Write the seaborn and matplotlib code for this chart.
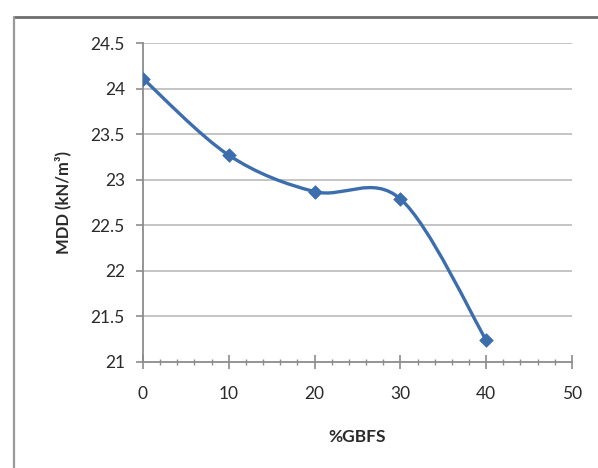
import numpy as np
import pandas as pd
import matplotlib
matplotlib.use("Agg")
import matplotlib.pyplot as plt
from matplotlib.path import Path
from matplotlib.patches import PathPatch
import seaborn as sns

# ---- data ----
gbfs = [0, 10, 20, 30, 40]
mdd = [24.11, 23.27, 22.87, 22.79, 21.24]
x_ticks = [0, 10, 20, 30, 40, 50]
y_ticks = [21, 21.5, 22, 22.5, 23, 23.5, 24, 24.5]
y_ticklabels = ["21", "21.5", "22", "22.5", "23", "23.5", "24", "24.5"]
x_label = "%GBFS"
y_label = "MDD (kN/m³)"

sns.set_style("white")
plt.rcParams["font.family"] = ["Lato", "DejaVu Sans"]

LINE = "#3C6EAD"
GRID = "#C4C4C4"
AXC = "#8C8C8C"
TXT = "#2A2A2A"

fig = plt.figure(figsize=(5.98, 4.68), dpi=100)
ax = fig.add_axes([0.239, 0.2265, 0.9565 - 0.239, 0.908 - 0.2265])

df = pd.DataFrame({"x": gbfs, "y": mdd})

# smooth (Excel-style Catmull-Rom Bezier) curve built from the data points
pts = np.column_stack([gbfs, mdd]).astype(float)
n = len(pts)
verts = [tuple(pts[0])]
codes = [Path.MOVETO]
for i in range(n - 1):
    p0 = pts[max(i - 1, 0)]
    p1 = pts[i]
    p2 = pts[i + 1]
    p3 = pts[min(i + 2, n - 1)]
    c1 = p1 + (p2 - p0) / 6.0
    c2 = p2 - (p3 - p1) / 6.0
    verts += [tuple(c1), tuple(c2), tuple(p2)]
    codes += [Path.CURVE4] * 3
patch = PathPatch(Path(verts, codes), facecolor="none", edgecolor=LINE,
                  lw=2.4, zorder=3, capstyle="round", joinstyle="round")
ax.add_patch(patch)

sns.scatterplot(data=df, x="x", y="y", marker="D", s=48, color=LINE,
                edgecolor=LINE, linewidth=0.5, ax=ax, zorder=4, legend=False)

ax.set_xlim(0, 50)
ax.set_ylim(21, 24.5)
ax.set_xticks(x_ticks)
ax.set_xticks(np.arange(0, 51, 2), minor=True)
ax.set_yticks(y_ticks)
ax.set_yticklabels(y_ticklabels)
ax.set_xticklabels([str(v) for v in x_ticks])

for y in y_ticks[1:]:
    ax.axhline(y, color=GRID, lw=1.4, zorder=1)

for s in ["top", "right"]:
    ax.spines[s].set_visible(False)
for s in ["left", "bottom"]:
    ax.spines[s].set_color(AXC)
    ax.spines[s].set_linewidth(1.3)

ax.tick_params(axis="y", which="major", direction="out", length=5, width=1.2,
               color=AXC, labelsize=12.5, labelcolor=TXT, pad=8, left=True)
ax.tick_params(axis="x", which="major", direction="inout", length=10, width=1.2,
               color=AXC, labelsize=12.5, labelcolor=TXT, pad=12, bottom=True)
ax.tick_params(axis="x", which="minor", direction="inout", length=5, width=1.0,
               color=AXC, bottom=True)

ax.set_xlabel(x_label, fontsize=12.5, fontweight="bold", color=TXT, labelpad=20)
ax.set_ylabel(y_label, fontsize=12, fontweight="bold", color=TXT, labelpad=14)

# outer chart frame (top and left edges visible)
fig.add_artist(plt.Line2D([14 / 598, 1.0], [1 - 17 / 468, 1 - 17 / 468],
                          transform=fig.transFigure, color="#6E6E6E", lw=2.0))
fig.add_artist(plt.Line2D([14 / 598, 14 / 598], [0, 1 - 17 / 468],
                          transform=fig.transFigure, color="#9A9A9A", lw=1.6))

fig.savefig("out.png", dpi=100)
